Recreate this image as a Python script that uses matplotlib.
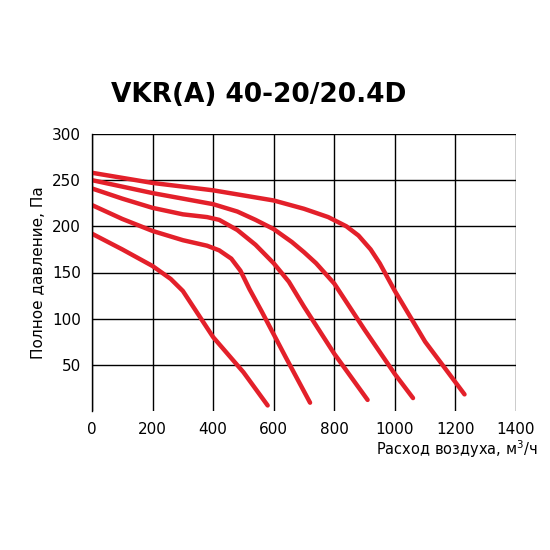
import matplotlib
matplotlib.use("Agg")
import matplotlib.pyplot as plt

c1x = [0, 100, 200, 260, 300, 330, 360, 400, 500, 580]
c1y = [192, 175, 157, 143, 130, 115, 100, 80, 42, 6]
c2x = [0, 100, 200, 300, 380, 420, 460, 490, 520, 560, 640, 720]
c2y = [223, 208, 195, 185, 179, 174, 165, 152, 132, 108, 58, 9]
c3x = [0, 100, 200, 300, 380, 420, 480, 540, 600, 650, 700, 800, 910]
c3y = [241, 230, 220, 213, 210, 207, 196, 180, 160, 140, 113, 62, 12]
c4x = [0, 200, 400, 480, 540, 600, 660, 700, 740, 800, 900, 1000, 1060]
c4y = [250, 236, 224, 216, 207, 197, 183, 172, 160, 138, 88, 40, 14]
c5x = [0, 200, 400, 600, 700, 780, 840, 880, 920, 950, 980, 1000, 1100, 1230]
c5y = [258, 247, 239, 228, 219, 210, 200, 190, 175, 160, 142, 130, 75, 18]
curves = [(c1x, c1y), (c2x, c2y), (c3x, c3y), (c4x, c4y), (c5x, c5y)]

fig = plt.figure(figsize=(5.5, 5.5), dpi=100)
ax = fig.add_axes([92/550, (550-411)/550, (516-92)/550, (411-134)/550])
for x, y in curves:
    ax.plot(x, y, color="#e3202a", lw=3.2, solid_capstyle="round", solid_joinstyle="round")
ax.set_xlim(0, 1400)
ax.set_ylim(0, 300)
ax.set_xticks(range(0, 1401, 200))
ax.set_yticks([50, 100, 150, 200, 250, 300])
ax.grid(True, color="black", lw=1)
for s in ["top", "right", "bottom"]:
    ax.spines[s].set_visible(False)
ax.spines["left"].set_linewidth(1)
ax.tick_params(length=0, labelsize=11, pad=8)
ax.set_xticklabels(["0", "200", "400", "600", "800", "1000", "1200", "1400"])
ax.set_xlabel("Расход воздуха, м$^3$/ч", fontsize=10.5)
ax.xaxis.set_label_coords(1.05, -0.1)
ax.xaxis.label.set_ha("right")
ax.set_ylabel("Полное давление, Па", fontsize=11)
fig.text(0.47, 0.815, "VKR(A) 40-20/20.4D", fontsize=19, fontweight="bold", ha="center")
fig.savefig("out.png", dpi=100)
